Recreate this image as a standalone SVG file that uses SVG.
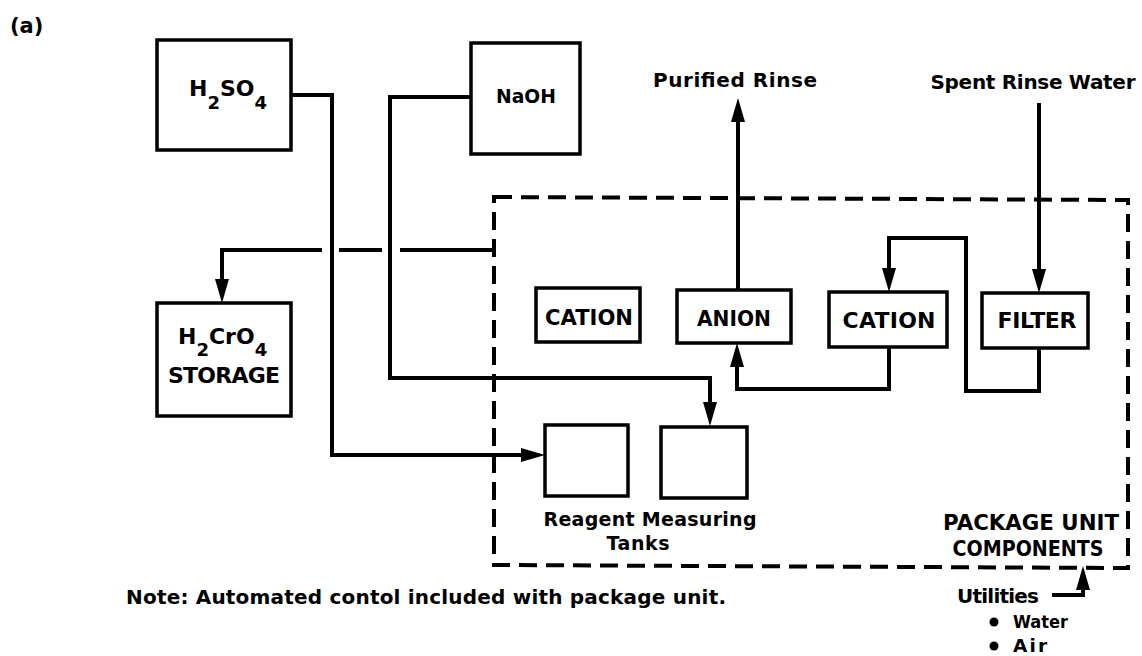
<svg xmlns="http://www.w3.org/2000/svg" width="1142" height="656" viewBox="0 0 1142 656">
<style>
  .box { fill: none; stroke: #000; stroke-width: 3.5; }
  .flow { fill: none; stroke: #000; stroke-width: 4; stroke-linejoin: miter; }
  .dash { fill: none; stroke: #000; stroke-width: 4; stroke-dasharray: 18 9; }
  text { font-family: "DejaVu Sans", "Liberation Sans", sans-serif; font-weight: bold; fill: #000; }
  .lbl { font-size: 22px; }
  .sm { font-size: 20px; }
  .note { font-size: 18.5px; }
</style>
<defs>
  <marker id="arr" markerUnits="userSpaceOnUse" markerWidth="26" markerHeight="16" refX="12" refY="7" orient="auto">
    <path d="M0,0 L24,7 L0,14 z" fill="#000"/>
  </marker>
</defs>
<rect width="1142" height="656" fill="#fff"/>

<text x="10" y="33" font-size="21">(a)</text>

<g id="connectors">
  <path class="flow" d="M322 250 L222 250 L222 291" marker-end="url(#arr)"/>
  <path class="flow" d="M339 250 L382 250"/>
  <path class="flow" d="M400 250 L494 250"/>
  <path class="flow" d="M738 290 L738 110" marker-end="url(#arr)"/>
  <path class="flow" d="M1039 103 L1039 281" marker-end="url(#arr)"/>
  <path class="flow" d="M1039 348 L1039 391 L966 391 L966 238 L889 238 L889 280" marker-end="url(#arr)"/>
  <path class="flow" d="M889 347 L889 389 L737 389 L737 355" marker-end="url(#arr)"/>
  <path class="flow" d="M291 95 L332 95 L332 455 L533 455" marker-end="url(#arr)"/>
  <path class="flow" d="M471 97 L390 97 L390 378 L710 378 L710 414" marker-end="url(#arr)"/>
  <path class="flow" d="M1052 595 L1083 595 L1083 578" marker-end="url(#arr)"/>
</g>

<g id="package-unit">
  <path class="dash" d="M494 197 L1128 200 L1128 568 L494 565 Z"/>
  <text x="1031" y="530" class="lbl" text-anchor="middle" textLength="176" lengthAdjust="spacingAndGlyphs">PACKAGE UNIT</text>
  <text x="1028" y="556" class="lbl" text-anchor="middle" textLength="151" lengthAdjust="spacingAndGlyphs">COMPONENTS</text>
</g>

<g id="h2so4">
  <rect class="box" x="157" y="40" width="134" height="110"/>
  <text x="189" y="96" class="lbl">H<tspan font-size="18" dy="13">2</tspan><tspan dy="-13">SO</tspan><tspan font-size="18" dy="13">4</tspan></text>
</g>

<g id="naoh">
  <rect class="box" x="471" y="43" width="109" height="111"/>
  <text x="526" y="103" font-size="20" text-anchor="middle" textLength="60" lengthAdjust="spacingAndGlyphs">NaOH</text>
</g>

<g id="h2cro4-storage">
  <rect class="box" x="157" y="303" width="134" height="113"/>
  <text x="178" y="344" class="lbl">H<tspan font-size="18" dy="12">2</tspan><tspan dy="-12">CrO</tspan><tspan font-size="18" dy="12">4</tspan></text>
  <text x="224" y="383" class="lbl" text-anchor="middle" textLength="112" lengthAdjust="spacing">STORAGE</text>
</g>

<g id="cation-1">
  <rect class="box" x="536" y="288" width="104" height="54"/>
  <text x="589" y="325" class="lbl" text-anchor="middle" textLength="88" lengthAdjust="spacingAndGlyphs">CATION</text>
</g>

<g id="anion">
  <rect class="box" x="677" y="290" width="114" height="53"/>
  <text x="734" y="326" class="lbl" text-anchor="middle" textLength="74" lengthAdjust="spacingAndGlyphs">ANION</text>
</g>

<g id="cation-2">
  <rect class="box" x="829" y="292" width="118" height="55"/>
  <text x="889" y="328" class="lbl" text-anchor="middle" textLength="93" lengthAdjust="spacing">CATION</text>
</g>

<g id="filter">
  <rect class="box" x="982" y="293" width="106" height="55"/>
  <text x="1037" y="328" class="lbl" text-anchor="middle" textLength="79" lengthAdjust="spacing">FILTER</text>
</g>

<g id="reagent-tanks">
  <rect class="box" x="545" y="425" width="83" height="71"/>
  <rect class="box" x="661" y="427" width="86" height="71"/>
  <text x="650" y="526" font-size="19" text-anchor="middle" textLength="213" lengthAdjust="spacing">Reagent Measuring</text>
  <text x="638" y="550" font-size="19" text-anchor="middle" textLength="63" lengthAdjust="spacing">Tanks</text>
</g>

<g id="purified-rinse">
  <text x="735" y="87" class="sm" text-anchor="middle" textLength="164" lengthAdjust="spacing">Purified Rinse</text>
</g>

<g id="spent-rinse">
  <text x="1033" y="89" class="sm" text-anchor="middle" textLength="205" lengthAdjust="spacing">Spent Rinse Water</text>
</g>

<g id="utilities">
  <text x="957" y="603" class="sm" textLength="82" lengthAdjust="spacing">Utilities</text>
  <circle cx="994" cy="622" r="4.5"/>
  <text x="1013" y="628" class="note" textLength="55" lengthAdjust="spacingAndGlyphs">Water</text>
  <circle cx="994" cy="646" r="4.5"/>
  <text x="1013" y="652" class="note" textLength="34" lengthAdjust="spacing">Air</text>
</g>

<g id="note">
  <text x="126" y="604" font-size="20" textLength="600" lengthAdjust="spacing">Note: Automated contol included with package unit.</text>
</g>
</svg>
